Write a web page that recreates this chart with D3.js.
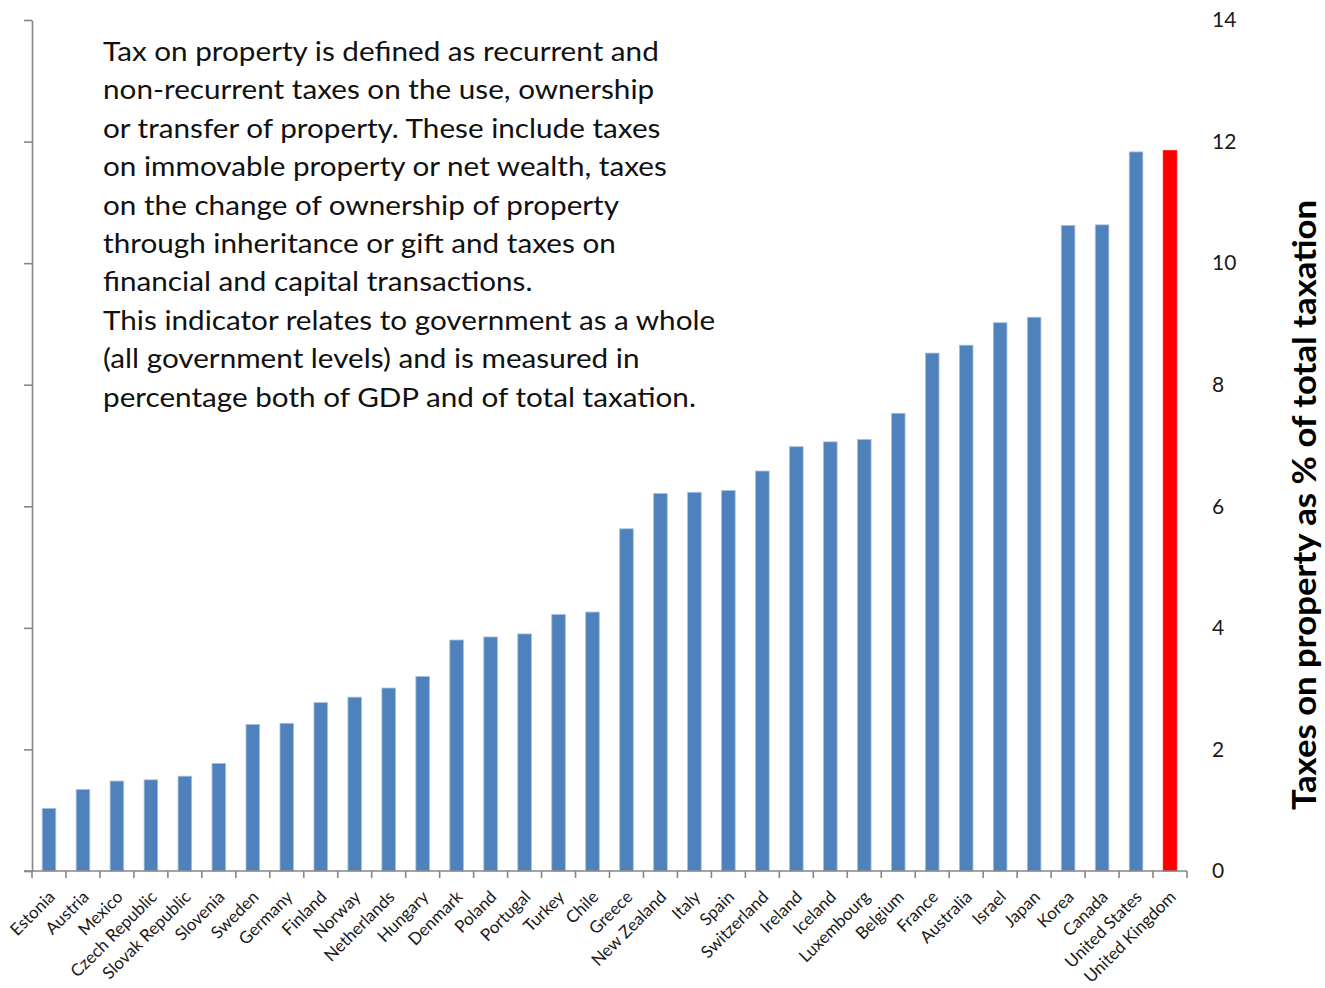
<!DOCTYPE html>
<html>
<head>
<meta charset="utf-8">
<script src="https://cdn.jsdelivr.net/npm/d3@7"></script>
<style>
  html, body { margin: 0; padding: 0; background: #fff; }
  svg { display: block; font-family: Lato, "Open Sans", sans-serif; }
</style>
</head>
<body>
<svg id="chart" width="1325" height="988"></svg>
<script>
// Taxes on property as a share of total taxation, OECD countries
const countries = [
  "Estonia", "Austria", "Mexico", "Czech Republic", "Slovak Republic", "Slovenia",
  "Sweden", "Germany", "Finland", "Norway", "Netherlands", "Hungary", "Denmark",
  "Poland", "Portugal", "Turkey", "Chile", "Greece", "New Zealand", "Italy", "Spain",
  "Switzerland", "Ireland", "Iceland", "Luxembourg", "Belgium", "France", "Australia",
  "Israel", "Japan", "Korea", "Canada", "United States", "United Kingdom"
];
const propertyTaxShare = [
  1.03, 1.34, 1.48, 1.50, 1.56, 1.77,
  2.41, 2.43, 2.77, 2.86, 3.01, 3.20, 3.80,
  3.85, 3.90, 4.22, 4.26, 5.63, 6.21, 6.23, 6.26,
  6.58, 6.98, 7.06, 7.10, 7.53, 8.52, 8.65,
  9.02, 9.11, 10.62, 10.63, 11.83, 11.85
];
const highlighted = ["United Kingdom"];
const yTicks = [0, 2, 4, 6, 8, 10, 12, 14];
const noteLines = [
  "Tax on property is defined as recurrent and",
  "non-recurrent taxes on the use, ownership",
  "or transfer of property. These include taxes",
  "on immovable property or net wealth, taxes",
  "on the change of ownership of property",
  "through inheritance or gift and taxes on",
  "financial and capital transactions.",
  "This indicator relates to government as a whole",
  "(all government levels) and is measured in",
  "percentage both of GDP and of total taxation."
];
const axisTitle = "Taxes on property as % of total taxation";

const data = countries.map((c, i) => ({ country: c, value: propertyTaxShare[i] }));

const svg = d3.select("#chart");
const plotLeft = 32, plotRight = 1187, plotTop = 20, plotBottom = 871;
const axisColor = "#868686";

const x = d3.scaleBand().domain(countries).range([plotLeft, plotRight]).paddingInner(0.6).paddingOuter(0.3);
const xStep = d3.scaleBand().domain(countries).range([plotLeft, plotRight]);
const y = d3.scaleLinear().domain([0, 14]).range([plotBottom, plotTop]);

// Bars
svg.append("g").selectAll("rect").data(data).join("rect")
  .attr("x", d => x(d.country))
  .attr("y", d => y(d.value))
  .attr("width", x.bandwidth())
  .attr("height", d => y(0) - y(d.value))
  .attr("fill", d => highlighted.includes(d.country) ? "#ff0000" : "#4f81bd")
  .attr("stroke", d => highlighted.includes(d.country) ? "#ff0000" : "#a7c0de")
  .attr("stroke-width", 0.8);

// Left axis line with tick marks (no labels)
const yAxisLeft = d3.axisLeft(y).tickValues(yTicks).tickSize(8).tickFormat("").tickSizeOuter(0);
const gL = svg.append("g").attr("transform", `translate(${plotLeft},0)`).call(yAxisLeft);
gL.select(".domain").attr("stroke", axisColor).attr("stroke-width", 1.6);
gL.selectAll(".tick line").attr("stroke", axisColor).attr("stroke-width", 1.6);

// Right-hand value labels (axis line hidden)
const yAxisRight = d3.axisRight(y).tickValues(yTicks).tickSize(0).tickPadding(25);
const gR = svg.append("g").attr("transform", `translate(${plotRight},0)`).call(yAxisRight);
gR.select(".domain").remove();
gR.selectAll(".tick text")
  .attr("font-family", "Lato, sans-serif")
  .attr("font-size", 21)
  .attr("fill", "#1a1a1a");

// Category axis
const xBoundaries = countries.map(c => xStep(c)).concat([plotRight]);
const gB = svg.append("g");
gB.append("line")
  .attr("x1", plotLeft - 8).attr("x2", plotRight)
  .attr("y1", plotBottom).attr("y2", plotBottom)
  .attr("stroke", axisColor).attr("stroke-width", 1.6);
gB.selectAll("line.tick").data(xBoundaries).join("line")
  .attr("class", "tick")
  .attr("x1", d => d).attr("x2", d => d)
  .attr("y1", plotBottom).attr("y2", plotBottom + 7)
  .attr("stroke", axisColor).attr("stroke-width", 1.6);
gB.selectAll("text").data(countries).join("text")
  .attr("transform", d => `translate(${xStep(d) + xStep.bandwidth() / 2 + 7},${plotBottom + 27}) rotate(-45)`)
  .attr("text-anchor", "end")
  .attr("font-size", 17)
  .attr("fill", "#1a1a1a")
  .text(d => d);

// Explanatory note, set slightly wide
svg.append("g")
  .attr("transform", "translate(103,61) scale(1.12,1)")
  .append("text")
  .attr("font-size", 26.5)
  .attr("fill", "#111")
  .selectAll("tspan").data(noteLines).join("tspan")
  .attr("x", 0)
  .attr("dy", (d, i) => i === 0 ? 0 : 38.4)
  .text(d => d);

// Axis title
svg.append("text")
  .attr("transform", `translate(1316,505) rotate(-90)`)
  .attr("text-anchor", "middle")
  .attr("font-size", 32)
  .attr("font-weight", "bold")
  .attr("textLength", 610)
  .attr("lengthAdjust", "spacingAndGlyphs")
  .attr("fill", "#000")
  .text(axisTitle);
</script>
</body>
</html>
